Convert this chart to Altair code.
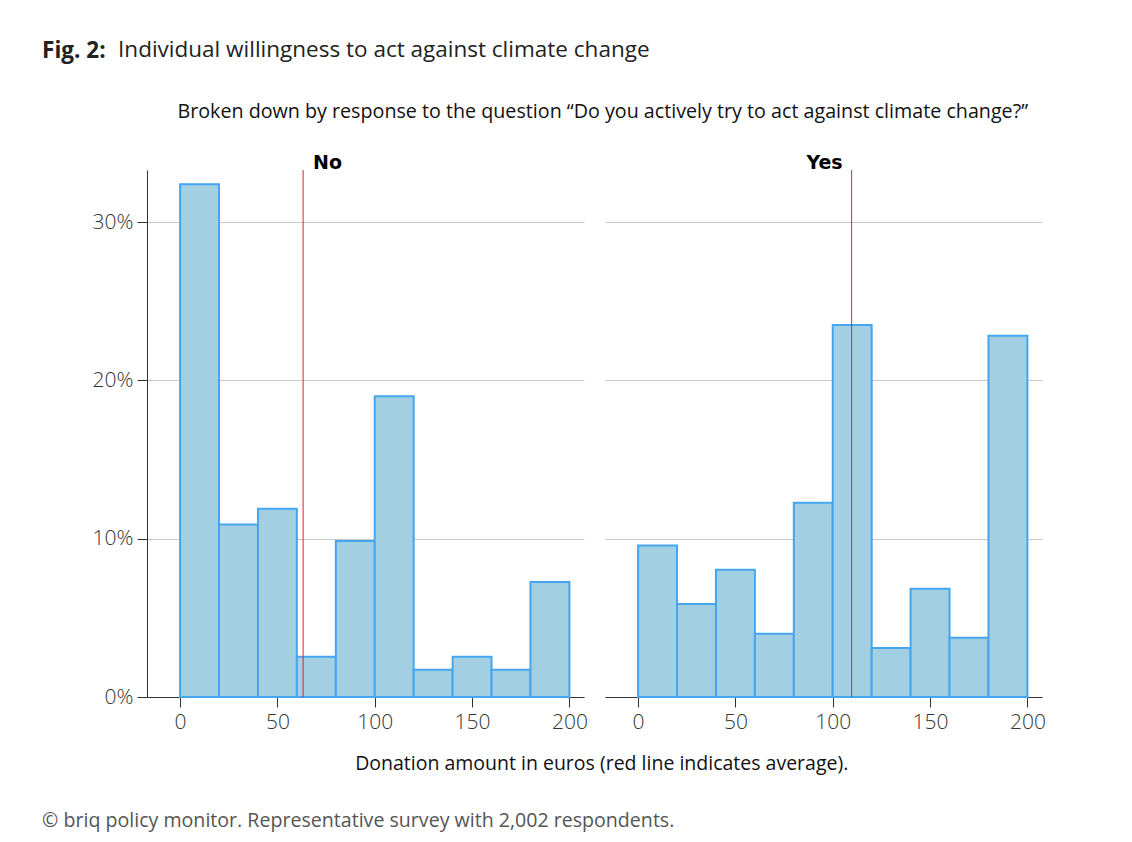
import altair as alt
import pandas as pd

# ---- data ----
bin_start = [0, 20, 40, 60, 80, 100, 120, 140, 160, 180]
bin_end = [20, 40, 60, 80, 100, 120, 140, 160, 180, 200]
no_pct = [32.4, 10.9, 11.9, 2.55, 9.85, 19.0, 1.72, 2.55, 1.72, 7.26]
yes_pct = [9.57, 5.87, 8.04, 3.99, 12.27, 23.5, 3.09, 6.84, 3.74, 22.83]
no_mean = [63.2]
yes_mean = [109.7]
x_ticks = [0, 50, 100, 150, 200]
y_ticks = [0, 10, 20, 30]

FILL = "#a3cfe2"
STROKE = "#45a6f0"
RED = "#d62728"
SANS = "Open Sans"

x_scale = alt.Scale(domain=[-17, 207.5], nice=False, zero=False)
y_scale = alt.Scale(domain=[0, 33.3], nice=False, zero=True)

x_axis = alt.Axis(values=x_ticks, title=None, grid=False, tickSize=10,
                  tickColor="#333333", domainColor="#333333",
                  labelFontSize=21, labelColor="#333333", labelFont=SANS,
                  labelFontWeight=300, labelPadding=4)

y_axis_left = alt.Axis(values=y_ticks, title=None, labelExpr="datum.value + '%'",
                       tickSize=10, tickColor="#333333", domainColor="#333333",
                       gridColor="#c8c8c8", labelFontSize=21, labelColor="#333333",
                       labelFont=SANS, labelFontWeight=300, labelPadding=4)
y_axis_right = alt.Axis(values=y_ticks, title=None, labels=False, ticks=False,
                        domain=False, grid=True, gridColor="#c8c8c8")


def panel(pcts, mean, name, y_axis, title_dx):
    df = pd.DataFrame({"start": bin_start, "end": bin_end, "pct": pcts})
    mdf = pd.DataFrame({"mean": mean})
    bars = alt.Chart(df).mark_bar(fill=FILL, stroke=STROKE, strokeWidth=2).encode(
        x=alt.X("start:Q", scale=x_scale, axis=x_axis),
        x2="end:Q",
        y=alt.Y("pct:Q", scale=y_scale, axis=y_axis),
        y2=alt.datum(0),
    )
    rule = alt.Chart(mdf).mark_rule(color=RED, strokeWidth=1).encode(
        x=alt.X("mean:Q", scale=x_scale)
    )
    return alt.layer(bars, rule).properties(
        width=437, height=527,
        title=alt.TitleParams(name, font="DejaVu Sans", fontSize=19, fontWeight="bold",
                              color="#000000", offset=-18, anchor="middle",
                              baseline="alphabetic", dx=title_dx),
    )


p_no = panel(no_pct, no_mean, "No", y_axis_left, -38)
p_yes = panel(yes_pct, yes_mean, "Yes", y_axis_right, 1)

level1 = alt.hconcat(p_no, p_yes, spacing=17).properties(
    title=alt.TitleParams("Donation amount in euros (red line indicates average).",
                          orient="bottom", anchor="middle", dx=33, offset=23,
                          font=SANS, fontSize=19.5, fontWeight="normal",
                          color="#111111")
)
level2 = alt.vconcat(level1).properties(
    title=alt.TitleParams("Broken down by response to the question \u201cDo you actively try to act against climate change?\u201d",
                          anchor="middle", dx=34, offset=32,
                          font=SANS, fontSize=19.7, fontWeight="normal",
                          color="#111111")
)
level3 = alt.vconcat(level2).properties(
    title=alt.TitleParams("\u00a9 briq policy monitor. Representative survey with 2,002 respondents.",
                          orient="bottom", anchor="start", dx=-50, offset=38,
                          font=SANS, fontSize=19.6, fontWeight="normal",
                          color="#555555")
)
level4 = alt.vconcat(level3).properties(
    title=alt.TitleParams("Individual willingness to act against climate change",
                          anchor="start", dx=76, offset=40,
                          font=SANS, fontSize=22.5, fontWeight="normal",
                          color="#222222")
)
chart = alt.vconcat(level4).properties(
    title=alt.TitleParams("Fig. 2:", anchor="start", dx=0, dy=23, offset=0,
                          font=SANS, fontSize=22.5, fontWeight="bold",
                          color="#222222"),
    padding={"left": 34, "top": 31, "right": 5, "bottom": 5},
    background="white",
).configure_view(strokeWidth=0, strokeOpacity=0)

chart.save("out.html", embed_options={"renderer": "svg", "actions": False})
